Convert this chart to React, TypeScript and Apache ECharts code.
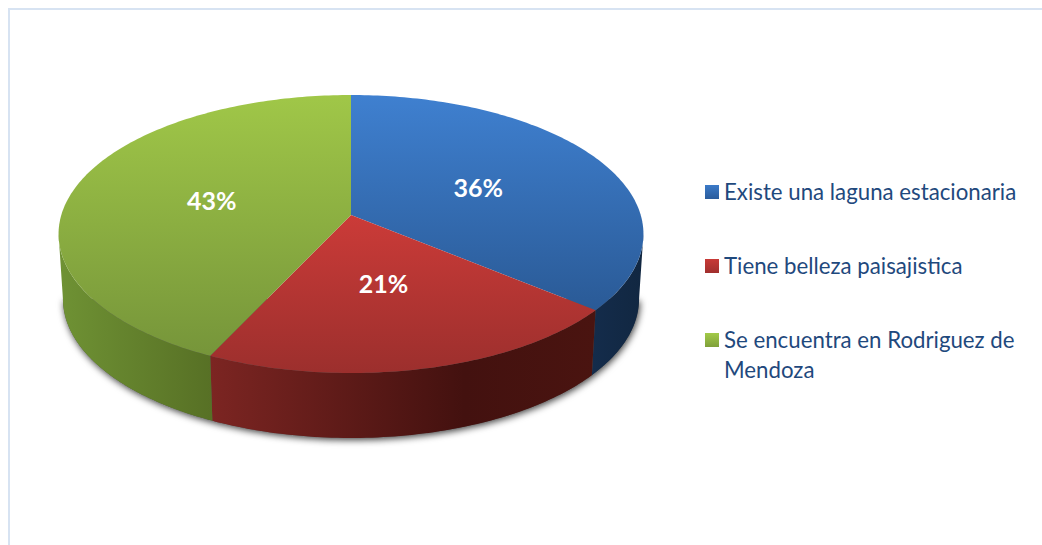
import React, { useEffect, useRef } from "react";
import * as echarts from "echarts";

const categories = [
  "Existe una laguna estacionaria",
  "Tiene belleza paisajistica",
  "Se encuentra en Rodriguez de\nMendoza",
];
const values = [36, 21, 43];
const topColors = [
  ["#3f80d0", "#2a5a96"],
  ["#cb3b38", "#9c2f2d"],
  ["#a0c748", "#76953a"],
];
const sideStops = [
  [[0, "#142c4b"], [1, "#112741"]],
  [[0, "#7c2522"], [0.66, "#43110f"], [1, "#4a1410"]],
  [[0, "#6f9234"], [1, "#577025"]],
];
const legendIconColors = [
  ["#3b7ac8", "#2a5c9c"],
  ["#c83a37", "#a02f2d"],
  ["#a2ca48", "#7fa03a"],
];
const legendIconTops = [185, 259, 333];
const labelFractions = [0.5, 0.48, 0.5];

const CX = 351;
const CY = 215;
const A = 289.7;
const B = 136.4;
const K = 0.1367;
const DEPTH = 65;
const BASE_X = 0.985;
const FONT = "Lato, Carlito, sans-serif";

const project = (t: number, f = 1) => {
  const u = Math.sin(t) * f;
  const v = -Math.cos(t) * f;
  const d = 1 - K * v;
  return [CX + (A * u) / d, CY + (B * v) / d];
};
const projectBase = (t: number) => {
  const p = project(t);
  return [CX + (p[0] - CX) * BASE_X, p[1] + DEPTH];
};
const total = values.reduce((a, b) => a + b, 0);
const sliceRange = (i: number) => {
  const before = values.slice(0, i).reduce((a, b) => a + b, 0);
  return [
    (before / total) * 2 * Math.PI,
    ((before + values[i]) / total) * 2 * Math.PI,
  ];
};
const samples = (a: number, b: number) => {
  const out: number[] = [];
  const n = Math.max(2, Math.ceil(((b - a) * 180) / Math.PI));
  for (let j = 0; j <= n; j++) out.push(a + ((b - a) * j) / n);
  return out;
};
const FRONT_A = Math.acos(-K);
const FRONT_B = 2 * Math.PI - FRONT_A;
const grad = (c: string[]) =>
  new echarts.graphic.LinearGradient(0, 0, 0, 1, [
    { offset: 0, color: c[0] },
    { offset: 1, color: c[1] },
  ]);
const sideGrad = (stops: any[]) =>
  new echarts.graphic.LinearGradient(
    0,
    0,
    1,
    0,
    stops.map((s) => ({ offset: s[0], color: s[1] })),
  );

const renderShadow = () => {
  const ts = samples(FRONT_A, FRONT_B);
  return {
    type: "polygon",
    shape: { points: ts.map(projectBase) },
    style: {
      fill: "#555",
      shadowBlur: 7,
      shadowColor: "rgba(0,0,0,0.75)",
      shadowOffsetX: 1,
      shadowOffsetY: 2,
    },
  };
};

const renderSide = (_p: any, api: any) => {
  const i = _p.dataIndex;
  api.value(0);
  const [s, e] = sliceRange(i);
  const a = Math.max(s, FRONT_A);
  const b = Math.min(e, FRONT_B);
  if (b <= a) return { type: "group", children: [] };
  const ts = samples(a, b);
  const pts = [...ts.map((t) => project(t)), ...ts.slice().reverse().map(projectBase)];
  return {
    type: "polygon",
    shape: { points: pts },
    style: { fill: sideGrad(sideStops[i]) },
  };
};

const renderTop = (p: any, api: any) => {
  const i = p.dataIndex;
  const value = api.value(0);
  const [s, e] = sliceRange(i);
  const pts = [[CX, CY], ...samples(s, e).map((t) => project(t))];
  const mid = project((s + e) / 2, labelFractions[i]);
  return {
    type: "group",
    children: [
      {
        type: "polygon",
        shape: { points: pts },
        style: { fill: grad(topColors[i]) },
      },
      {
        type: "text",
        x: mid[0],
        y: mid[1],
        style: {
          text: `${value}%`,
          fill: "#ffffff",
          font: `bold 25px ${FONT}`,
          align: "center",
          verticalAlign: "middle",
        },
      },
    ],
  };
};

const legendGraphics = () => {
  const out: any[] = [];
  categories.forEach((name, i) => {
    out.push({
      type: "rect",
      shape: { x: 705, y: legendIconTops[i], width: 14, height: 14 },
      style: { fill: grad(legendIconColors[i]) },
    });
    out.push({
      type: "text",
      x: 724,
      y: legendIconTops[i] - 9,
      style: {
        text: name,
        fill: "#1f497d",
        font: `22.25px ${FONT}`,
        lineHeight: 30,
        align: "left",
        verticalAlign: "top",
      },
    });
  });
  return out;
};

export default function App() {
  const ref = useRef<HTMLDivElement>(null);
  useEffect(() => {
    document.body.style.margin = "0";
    const chart = echarts.init(ref.current!, undefined, { renderer: "svg" });
    const data = values.map((v, i) => ({ name: categories[i], value: [v] }));
    chart.setOption({
      animation: false,
      backgroundColor: "#ffffff",
      graphic: [
        {
          type: "line",
          shape: { x1: 8, y1: 9, x2: 1042, y2: 9 },
          style: { stroke: "#d7e3f2", lineWidth: 2 },
        },
        {
          type: "line",
          shape: { x1: 9, y1: 8, x2: 9, y2: 545 },
          style: { stroke: "#d7e3f2", lineWidth: 2 },
        },
        ...legendGraphics(),
      ],
      series: [
        {
          type: "custom",
          coordinateSystem: "none",
          z: 1,
          silent: true,
          data: [[total]],
          renderItem: renderShadow,
        },
        {
          type: "custom",
          coordinateSystem: "none",
          z: 2,
          silent: true,
          data,
          renderItem: renderSide,
        },
        {
          type: "custom",
          coordinateSystem: "none",
          z: 3,
          silent: true,
          data,
          renderItem: renderTop,
        },
      ],
    });
    return () => chart.dispose();
  }, []);
  return <div ref={ref} style={{ width: 1042, height: 545 }} />;
}
